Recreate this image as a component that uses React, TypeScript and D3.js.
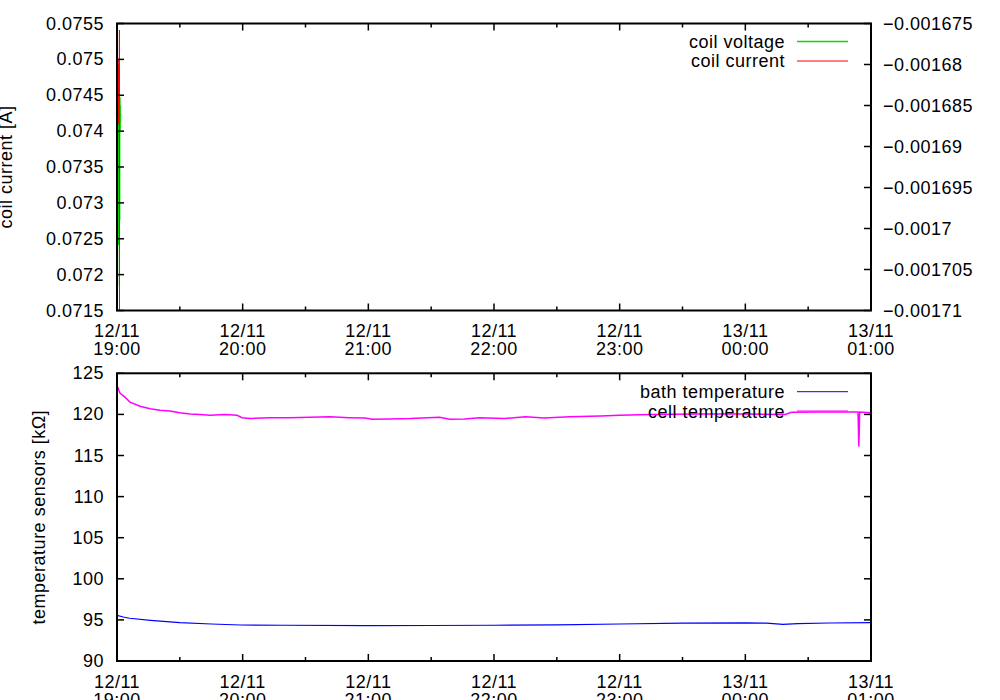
import React from "react";
import * as d3 from "d3";

// ---- data ----
const startTime = new Date(2012, 10, 12, 19, 0, 0);
const endTime = new Date(2012, 10, 13, 1, 0, 0);

// top panel (seconds after 19:00)
const coilVoltageSec = [0, 6, 12, 18, 24, 30, 36, 42, 48, 54, 60, 66, 72, 78, 84, 90, 96, 102, 108];
const coilVoltageVal = [-0.001679, -0.0017075, -0.001681, -0.001707, -0.001683, -0.0017, -0.00168, -0.001702, -0.001682, -0.001696, -0.00168, -0.001692, -0.001686, -0.001699, -0.001684, -0.001688, -0.001685, -0.001687, -0.001686];
const coilCurrentSec = [0, 5, 10, 15, 20, 25, 30, 35, 40, 45, 50, 55, 60, 65, 70, 72];
const coilCurrentVal = [0.075, 0.0742, 0.0749, 0.0739, 0.0748, 0.0744, 0.075, 0.0741, 0.0746, 0.0743, 0.0749, 0.0745, 0.0748, 0.0747, 0.07541, 0.07];

// bottom panel (minutes after 19:00)
const cellTempMin = [0, 0.5, 1.4, 3.8, 6.2, 11, 15.8, 20.5, 25.3, 30, 34.9, 39.6, 44.4, 51.6, 57.3, 59.7, 63.5, 73, 82.6, 92, 101.7, 111, 118.4, 121.8, 130, 140, 154, 159, 166, 173, 185, 195, 204, 216, 231, 240, 254.5, 278, 300, 319, 322, 335.7, 353.8, 354.2, 354.6, 360];
const cellTempVal = [122.97, 123.2, 122.6, 122.1, 121.5, 121.0, 120.7, 120.5, 120.4, 120.2, 120.05, 120.0, 119.9, 120.0, 119.9, 119.6, 119.5, 119.6, 119.6, 119.65, 119.7, 119.6, 119.55, 119.4, 119.45, 119.5, 119.65, 119.4, 119.45, 119.6, 119.5, 119.7, 119.55, 119.7, 119.8, 119.9, 120.0, 120.05, 120.05, 120.0, 120.25, 120.3, 120.3, 116.1, 120.3, 120.2];
const bathTempMin = [0, 3, 6, 16, 30, 45, 59, 80, 120, 150, 180, 210, 240, 270, 300, 310, 318, 325, 340, 360];
const bathTempVal = [95.55, 95.35, 95.2, 94.95, 94.66, 94.5, 94.38, 94.35, 94.3, 94.32, 94.35, 94.4, 94.5, 94.6, 94.65, 94.6, 94.45, 94.55, 94.62, 94.66];

const y1TopTicks = [0.0715, 0.072, 0.0725, 0.073, 0.0735, 0.074, 0.0745, 0.075, 0.0755];
const y2TopTicks = [-0.00171, -0.001705, -0.0017, -0.001695, -0.00169, -0.001685, -0.00168, -0.001675];
const yBottomTicks = [90, 95, 100, 105, 110, 115, 120, 125];

const FONT = "'Liberation Sans', Arial, Helvetica, sans-serif";
const FS = 18;
const LS = 0.5;
const GREEN = "#00dd00";

const L = 117, R = 871;
const topPanel = { top: 23.5, bottom: 310.5 };
const botPanel = { top: 373.3, bottom: 661 };

const x = d3.scaleTime().domain([startTime, endTime]).range([L, R]);
const xMajor = x.ticks(d3.timeHour.every(1));
const xMinor = x.ticks(d3.timeMinute.every(30)).filter((d) => d.getMinutes() === 30);
const fmtDate = d3.timeFormat("%d/%m");
const fmtTime = d3.timeFormat("%H:%M");

const secToDate = (s: number) => new Date(startTime.getTime() + s * 1000);
const minToDate = (m: number) => new Date(startTime.getTime() + m * 60000);

const fmtNum = (v: number) => {
  const s = String(+v.toPrecision(6));
  return s.replace("-", "\u2212");
};

function XAxis({ top, bottom }: { top: number; bottom: number }) {
  return (
    <g>
      {xMajor.map((d, i) => (
        <g key={"M" + i}>
          <line x1={x(d)} x2={x(d)} y1={bottom} y2={bottom - 7} stroke="#000" strokeWidth={1.5} />
          <line x1={x(d)} x2={x(d)} y1={top} y2={top + 7} stroke="#000" strokeWidth={1.5} />
          <text x={x(d)} y={bottom + 26.5} textAnchor="middle" fontSize={FS} letterSpacing={LS} fontFamily={FONT}>{fmtDate(d)}</text>
          <text x={x(d)} y={bottom + 44.5} textAnchor="middle" fontSize={FS} letterSpacing={LS} fontFamily={FONT}>{fmtTime(d)}</text>
        </g>
      ))}
      {xMinor.map((d, i) => (
        <g key={"m" + i}>
          <line x1={x(d)} x2={x(d)} y1={bottom} y2={bottom - 4} stroke="#000" strokeWidth={1.5} />
          <line x1={x(d)} x2={x(d)} y1={top} y2={top + 4} stroke="#000" strokeWidth={1.5} />
        </g>
      ))}
    </g>
  );
}

export default function App() {
  const y1 = d3.scaleLinear().domain([0.0715, 0.0755]).range([topPanel.bottom, topPanel.top]);
  const y2 = d3.scaleLinear().domain([-0.00171, -0.001675]).range([topPanel.bottom, topPanel.top]);
  const yb = d3.scaleLinear().domain([90, 125]).range([botPanel.bottom, botPanel.top]);

  const voltLine = d3.line<number>().x((_, i) => x(secToDate(coilVoltageSec[i]))).y((v) => y2(v));
  const currLine = d3.line<number>().x((_, i) => x(secToDate(coilCurrentSec[i]))).y((v) => y1(v));
  const cellLine = d3.line<number>().x((_, i) => x(minToDate(cellTempMin[i]))).y((v) => yb(v));
  const bathLine = d3.line<number>().x((_, i) => x(minToDate(bathTempMin[i]))).y((v) => yb(v));

  return (
    <svg width={1000} height={700} style={{ position: "absolute", left: 0, top: 0, background: "#fff" }} fontFamily={FONT}>
      <defs>
        <clipPath id="clipTop">
          <rect x={L} y={topPanel.top} width={R - L} height={topPanel.bottom - topPanel.top} />
        </clipPath>
        <clipPath id="clipBot">
          <rect x={L} y={botPanel.top} width={R - L} height={botPanel.bottom - botPanel.top} />
        </clipPath>
      </defs>
      <rect x={0} y={0} width={1000} height={700} fill="#fff" />

      {/* ---------- TOP PANEL ---------- */}
      <g clipPath="url(#clipTop)">
        <path d={voltLine(coilVoltageVal) || ""} fill="none" stroke={GREEN} strokeWidth={1} />
        <path d={currLine(coilCurrentVal) || ""} fill="none" stroke="#ff0000" strokeWidth={1} />
      </g>
      {y1TopTicks.map((t, i) => (
        <g key={"y1" + i}>
          <line x1={L} x2={L + 7} y1={y1(t)} y2={y1(t)} stroke="#000" strokeWidth={1.5} />
          <text x={104} y={y1(t) + 6} textAnchor="end" fontSize={FS} letterSpacing={LS}>{fmtNum(t)}</text>
        </g>
      ))}
      {y2TopTicks.map((t, i) => (
        <g key={"y2" + i}>
          <line x1={R} x2={R - 7} y1={y2(t)} y2={y2(t)} stroke="#000" strokeWidth={1.5} />
          <text x={883} y={y2(t) + 6} textAnchor="start" fontSize={FS} letterSpacing={LS}>{fmtNum(t)}</text>
        </g>
      ))}
      <XAxis top={topPanel.top} bottom={topPanel.bottom} />
      <rect x={L} y={topPanel.top} width={R - L} height={topPanel.bottom - topPanel.top} fill="none" stroke="#000" strokeWidth={2} />
      <text transform={`translate(12,${(topPanel.top + topPanel.bottom) / 2}) rotate(-90)`} textAnchor="middle" fontSize={FS} letterSpacing={LS}>coil current [A]</text>
      {/* legend */}
      <text x={785} y={47.5} textAnchor="end" fontSize={FS} letterSpacing={LS}>coil voltage</text>
      <line x1={797} x2={848} y1={41.5} y2={41.5} stroke={GREEN} strokeWidth={1.3} />
      <text x={785} y={67} textAnchor="end" fontSize={FS} letterSpacing={LS}>coil current</text>
      <line x1={797} x2={848} y1={61} y2={61} stroke="#ff0000" strokeWidth={1} />

      {/* ---------- BOTTOM PANEL ---------- */}
      <g clipPath="url(#clipBot)">
        <path d={bathLine(bathTempVal) || ""} fill="none" stroke="#0000ff" strokeWidth={1.2} />
        <path d={cellLine(cellTempVal) || ""} fill="none" stroke="#ff00ff" strokeWidth={1.5} />
      </g>
      {yBottomTicks.map((t, i) => (
        <g key={"yb" + i}>
          <line x1={L} x2={L + 7} y1={yb(t)} y2={yb(t)} stroke="#000" strokeWidth={1.5} />
          <line x1={R} x2={R - 7} y1={yb(t)} y2={yb(t)} stroke="#000" strokeWidth={1.5} />
          <text x={104} y={yb(t) + 6} textAnchor="end" fontSize={FS} letterSpacing={LS}>{fmtNum(t)}</text>
        </g>
      ))}
      <XAxis top={botPanel.top} bottom={botPanel.bottom} />
      <rect x={L} y={botPanel.top} width={R - L} height={botPanel.bottom - botPanel.top} fill="none" stroke="#000" strokeWidth={2} />
      <text transform={`translate(44.5,${(botPanel.top + botPanel.bottom) / 2}) rotate(-90)`} textAnchor="middle" fontSize={FS} letterSpacing={LS}>temperature sensors [kΩ]</text>
      {/* legend */}
      <text x={785} y={398} textAnchor="end" fontSize={FS} letterSpacing={LS}>bath temperature</text>
      <line x1={797} x2={848} y1={391.7} y2={391.7} stroke="#0000ff" strokeWidth={1} />
      <text x={785} y={418} textAnchor="end" fontSize={FS} letterSpacing={LS}>cell temperature</text>
      <line x1={797} x2={848} y1={411} y2={411} stroke="#ff00ff" strokeWidth={1} />
    </svg>
  );
}
